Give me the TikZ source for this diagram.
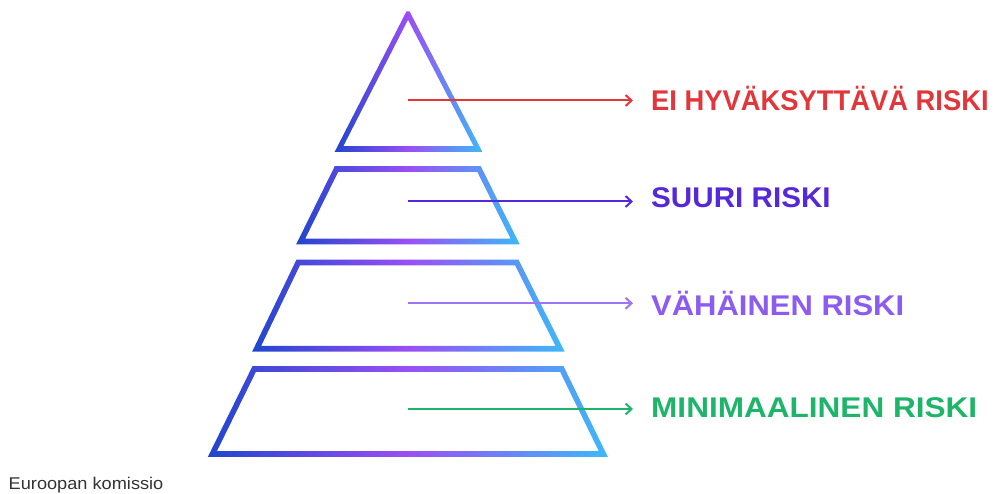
\documentclass[tikz,border=0pt]{standalone}
\usepackage{fontspec}
\setmainfont{Liberation Sans}
\usetikzlibrary{arrows.meta}
\definecolor{gL}{HTML}{2146CE}
\definecolor{gM}{HTML}{9A4FF4}
\definecolor{gR}{HTML}{3CB9F8}
\definecolor{cRed}{HTML}{E2363B}
\definecolor{cIndigo}{HTML}{5528D9}
\definecolor{cViolet}{HTML}{8C5BF2}
\definecolor{cGreen}{HTML}{1EB56A}
\definecolor{cGray}{HTML}{333333}
\def\hw{2.8}
% #1 top y, #2 bottom y, #3 top-left x, #4 top-right x, #5 bottom-left x, #6 bottom-right x (stroke centre line)
\newcommand\tierband[6]{%
  \pgfmathsetmacro\sL{(#5-#3)/(#2-#1)}%
  \pgfmathsetmacro\sR{(#6-#4)/(#2-#1)}%
  \pgfmathsetmacro\hL{\hw*sqrt(1+(\sL)*(\sL))}%
  \pgfmathsetmacro\hR{\hw*sqrt(1+(\sR)*(\sR))}%
  \pgfmathsetmacro\oT{#1-\hw}\pgfmathsetmacro\oB{#2+\hw}%
  \pgfmathsetmacro\iT{#1+\hw}\pgfmathsetmacro\iB{#2-\hw}%
  \pgfmathsetmacro\oTL{#3-(\sL)*\hw-\hL}\pgfmathsetmacro\oTR{#4-(\sR)*\hw+\hR}%
  \pgfmathsetmacro\oBL{#5+(\sL)*\hw-\hL}\pgfmathsetmacro\oBR{#6+(\sR)*\hw+\hR}%
  \pgfmathsetmacro\iTL{#3+(\sL)*\hw+\hL}\pgfmathsetmacro\iTR{#4+(\sR)*\hw-\hR}%
  \pgfmathsetmacro\iBL{#5-(\sL)*\hw+\hL}\pgfmathsetmacro\iBR{#6-(\sR)*\hw-\hR}%
  \shade[band] (\oTL,\oT) -- (\oTR,\oT) -- (\oBR,\oB) -- (\oBL,\oB) -- cycle
               (\iTL,\iT) -- (\iTR,\iT) -- (\iBR,\iB) -- (\iBL,\iB) -- cycle;%
}
\begin{document}
\begin{tikzpicture}[x=1pt,y=-1pt,
  band/.style={even odd rule,left color=gL,right color=gR,middle color=gM},
  lab/.style={anchor=base west,inner sep=0pt,font=\fontsize{28.5}{30}\selectfont\bfseries},
  arr/.style={line width=2pt,-{Straight Barb[length=6pt,width=11pt,line width=2pt]},shorten >=18pt}]
\useasboundingbox (0,0) rectangle (1000,494);
% top triangle
\shade[band] (406.5,11.3) -- (409.5,11.3) -- (482.3,151.8) -- (334.7,151.8) -- cycle
             (408,19.8) -- (473.7,146.2) -- (343.3,146.2) -- cycle;
% tiers
\tierband{169}{241.5}{336.5}{479}{300.7}{515.2}
\tierband{262.5}{348.7}{298.2}{516.8}{256.7}{560}
\tierband{369}{454}{254.2}{561.8}{212.4}{603.3}
% labels
\coordinate (s1) at (408,100.5);
\coordinate (s2) at (408,201.5);
\coordinate (s3) at (408,303.3);
\coordinate (s4) at (408,409);
\node[lab,text=cRed] (l1) at (651,111) {\scalebox{0.96}[1]{EI HYVÄKSYTTÄVÄ RISKI}};
\node[lab,text=cIndigo] (l2) at (651,208) {\scalebox{1.04}[1]{SUURI RISKI}};
\node[lab,text=cViolet] (l3) at (651,315) {\scalebox{1.087}[1]{VÄHÄINEN RISKI}};
\node[lab,text=cGreen] (l4) at (651,417.5) {\scalebox{1.107}[1]{MINIMAALINEN RISKI}};
\draw[arr,draw=cRed] (s1) -- (s1 -| l1.west);
\draw[arr,draw=cIndigo] (s2) -- (s2 -| l2.west);
\draw[arr,draw=cViolet!85!white] (s3) -- (s3 -| l3.west);
\draw[arr,draw=cGreen] (s4) -- (s4 -| l4.west);
\node[anchor=base west,inner sep=0pt,text=cGray,font=\fontsize{17}{19}\selectfont] (src) at (8.5,489) {\scalebox{1.07}[1]{Euroopan komissio}};
\end{tikzpicture}
\end{document}
